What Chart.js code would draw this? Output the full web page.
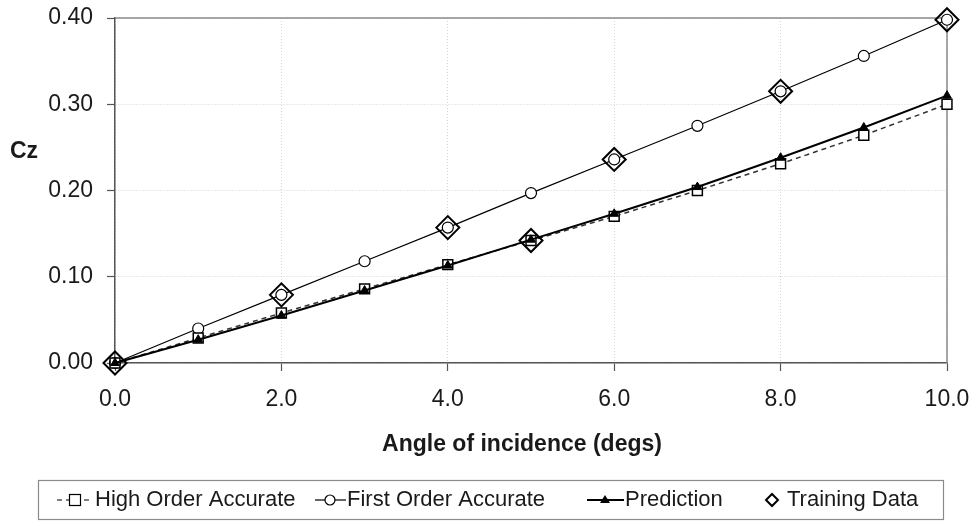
<!DOCTYPE html>
<html>
<head>
<meta charset="utf-8">
<script src="https://cdn.jsdelivr.net/npm/chart.js@4.4.0/dist/chart.umd.min.js"></script>
<style>
  html, body { margin: 0; padding: 0; background: #fff; }
  #wrap { width: 979px; height: 521px; }
</style>
</head>
<body>
<div id="wrap"><canvas id="chart" width="979" height="521"></canvas></div>
<script>
// angle of incidence (degs)
const angles = [0, 1, 2, 3, 4, 5, 6, 7, 8, 9, 10]
const highOrder = [0, 0.029, 0.058, 0.086, 0.114, 0.142, 0.170, 0.200, 0.231, 0.264, 0.300]
const firstOrder = [0, 0.040, 0.079, 0.118, 0.157, 0.197, 0.236, 0.275, 0.315, 0.356, 0.398]
const prediction = [0, 0.027, 0.055, 0.084, 0.113, 0.143, 0.173, 0.204, 0.238, 0.273, 0.310]
const trainingAngles = [0, 2, 4, 5, 6, 8, 10]
const trainingCz = [0, 0.079, 0.157, 0.142, 0.236, 0.315, 0.398]

const seriesNames = ['High Order Accurate', 'First Order Accurate', 'Prediction', 'Training Data']
const xTitle = 'Angle of incidence (degs)'
const yTitle = 'Cz'

const FONT = '"Liberation Sans", Arial, sans-serif'
const INK = '#1a1a1a'

const pts = (xs, ys) => xs.map((x, i) => ({ x: x, y: ys[i] }))

// plot frame (top/right), titles and the boxed legend
const decorations = {
  id: 'decorations',
  beforeDatasetsDraw(chart) {
    const { ctx, chartArea: a } = chart
    ctx.save()
    ctx.strokeStyle = '#8a8a8a'
    ctx.lineWidth = 1.5
    ctx.beginPath()
    ctx.moveTo(a.left, a.top)
    ctx.lineTo(a.right, a.top)
    ctx.lineTo(a.right, a.bottom)
    ctx.stroke()
    ctx.restore()
  },
  afterDraw(chart) {
    const { ctx } = chart
    ctx.save()
    ctx.fillStyle = INK
    ctx.textBaseline = 'middle'
    ctx.font = 'bold 23px ' + FONT
    ctx.textAlign = 'left'
    ctx.fillText(yTitle, 10, 152)
    ctx.textAlign = 'center'
    ctx.fillText(xTitle, 522, 445)

    // legend box
    ctx.strokeStyle = '#8a8a8a'
    ctx.lineWidth = 1.2
    ctx.strokeRect(38.5, 480.5, 905, 39)

    const cy = 500
    ctx.strokeStyle = '#000'
    ctx.lineWidth = 1.2

    // high order: dashed line with open square
    ctx.setLineDash([5, 4])
    ctx.beginPath(); ctx.moveTo(57, cy); ctx.lineTo(92, cy); ctx.stroke()
    ctx.setLineDash([])
    ctx.fillStyle = '#fff'
    ctx.fillRect(69, cy - 5, 11, 11); ctx.strokeRect(69.5, cy - 5.5, 11, 11)

    // first order: thin line with open circle
    ctx.beginPath(); ctx.moveTo(315, cy); ctx.lineTo(346, cy); ctx.stroke()
    ctx.beginPath(); ctx.arc(330, cy, 5, 0, Math.PI * 2); ctx.fill(); ctx.stroke()

    // prediction: heavier line with filled triangle
    ctx.lineWidth = 2
    ctx.beginPath(); ctx.moveTo(587, cy); ctx.lineTo(624, cy); ctx.stroke()
    ctx.fillStyle = '#000'
    ctx.beginPath(); ctx.moveTo(605, cy - 5); ctx.lineTo(610, cy + 3); ctx.lineTo(600, cy + 3); ctx.closePath(); ctx.fill()

    // training data: open diamond
    ctx.lineWidth = 2
    ctx.beginPath(); ctx.moveTo(772, cy - 6); ctx.lineTo(778, cy); ctx.lineTo(772, cy + 6); ctx.lineTo(766, cy); ctx.closePath(); ctx.stroke()

    ctx.fillStyle = INK
    ctx.font = '22px ' + FONT
    ctx.textAlign = 'left'
    ctx.fillText(seriesNames[0], 95, cy)
    ctx.fillText(seriesNames[1], 347, cy)
    ctx.fillText(seriesNames[2], 625, cy)
    ctx.fillText(seriesNames[3], 787, cy)
    ctx.restore()
  }
}

const axisCommon = {
  type: 'linear',
  ticks: { color: INK, font: { family: FONT, size: 23 } },
  grid: { color: '#d4d4d4', lineWidth: 1, tickColor: '#555', tickLength: 8, tickWidth: 1.2 },
  border: { color: '#555', width: 1.5, dash: [1, 2] }
}

new Chart(document.getElementById('chart'), {
  type: 'line',
  data: {
    datasets: [
      {
        label: seriesNames[3],
        data: pts(trainingAngles, trainingCz),
        showLine: false,
        clip: false,
        pointStyle: 'rectRot',
        pointRadius: 11.5,
        pointBorderWidth: 2,
        pointBorderColor: '#000',
        pointBackgroundColor: 'rgba(0,0,0,0)',
        order: 0
      },
      {
        label: seriesNames[2],
        data: pts(angles, prediction),
        clip: false,
        borderColor: '#000',
        borderWidth: 2,
        pointStyle: 'triangle',
        pointRadius: 5,
        pointBorderWidth: 1,
        pointBorderColor: '#000',
        pointBackgroundColor: '#000',
        order: 1
      },
      {
        label: seriesNames[0],
        data: pts(angles, highOrder),
        clip: false,
        borderColor: '#333',
        borderWidth: 1.5,
        borderDash: [5, 4],
        pointStyle: 'rect',
        pointRadius: 7,
        pointBorderWidth: 1.5,
        pointBorderColor: '#000',
        pointBackgroundColor: '#fff',
        order: 2
      },
      {
        label: seriesNames[1],
        data: pts(angles, firstOrder),
        clip: false,
        borderColor: '#000',
        borderWidth: 1.2,
        pointStyle: 'circle',
        pointRadius: 5.5,
        pointBorderWidth: 1.2,
        pointBorderColor: '#000',
        pointBackgroundColor: '#fff',
        order: 3
      }
    ]
  },
  options: {
    responsive: false,
    animation: false,
    devicePixelRatio: 1,
    layout: { padding: { left: 0, top: 18, right: 32, bottom: 58 } },
    plugins: { legend: { display: false }, tooltip: { enabled: false } },
    scales: {
      x: {
        ...axisCommon,
        min: 0,
        max: 10,
        ticks: { ...axisCommon.ticks, stepSize: 2, padding: 15, maxRotation: 0,
          callback: v => v.toFixed(1) },
        afterFit: s => { s.height = 100; s.paddingLeft = 0; s.paddingRight = 0 }
      },
      y: {
        ...axisCommon,
        min: 0,
        max: 0.4,
        ticks: { ...axisCommon.ticks, stepSize: 0.1, padding: 14,
          callback: v => v.toFixed(2) },
        afterFit: s => { s.width = 115; s.paddingTop = 0; s.paddingBottom = 0 }
      }
    }
  },
  plugins: [decorations]
})
</script>
</body>
</html>
